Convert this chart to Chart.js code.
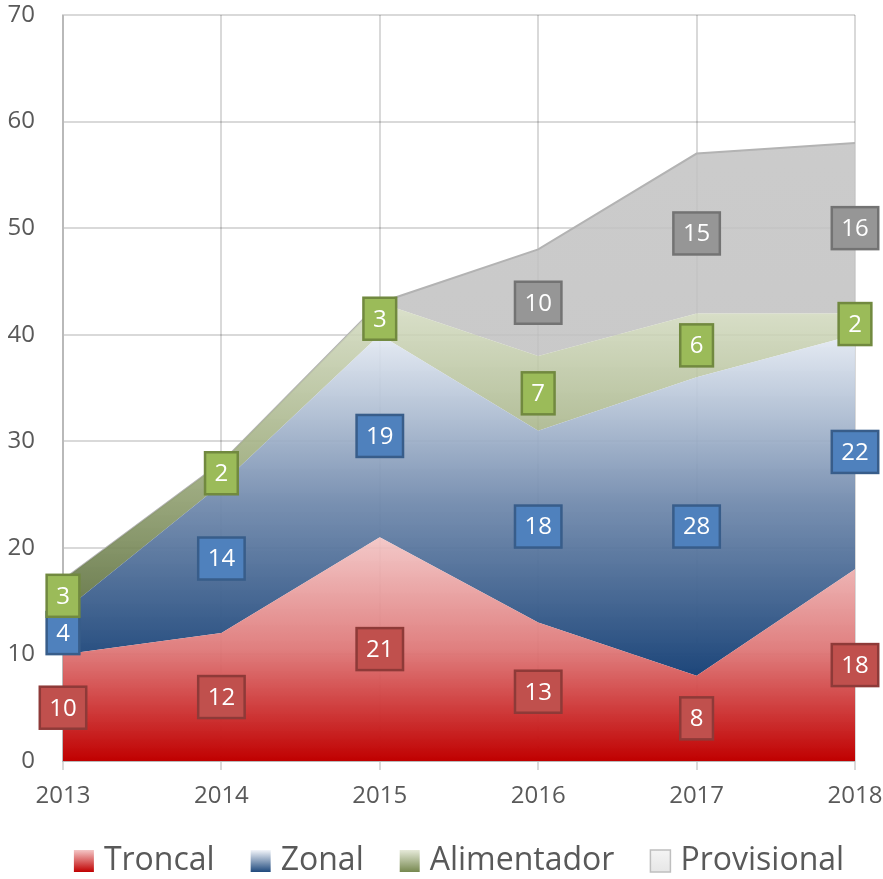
<!DOCTYPE html>
<html>
<head>
<meta charset="utf-8">
<script src="https://cdn.jsdelivr.net/npm/chart.js@4.4.1/dist/chart.umd.min.js"></script>
<style>
  html, body { margin: 0; padding: 0; background: #fff; }
  #wrap { width: 883px; height: 879px; }
</style>
</head>
<body>
<div id="wrap"><canvas id="areaChart" width="883" height="879"></canvas></div>
<script>
// ----------------------------------------------------
const years = [ '2013', '2014', '2015', '2016', '2017', '2018' ];
const troncal = [ 10, 12, 21, 13, 8, 18 ];
const zonal = [ 4, 14, 19, 18, 28, 22 ];
const alimentador = [ 3, 2, 3, 7, 6, 2 ];
const provisional = [ 0, 0, 0, 10, 15, 16 ];
const seriesNames = [ 'Troncal', 'Zonal', 'Alimentador', 'Provisional' ];
const yTicks = [ 0, 10, 20, 30, 40, 50, 60, 70 ];
// ----------------------------------------------------
const allSeries = [ troncal, zonal, alimentador, provisional ];
// gradient stops (top, middle, bottom) for each area
const areaStops = [
    [ 'rgba(242,196,196,0.92)', 'rgba(222,120,120,0.95)', 'rgba(192,0,0,1)' ],
    [ 'rgba(228,234,243,0.92)', 'rgba(112,137,172,0.95)', 'rgba(29,70,122,1)' ],
    [ 'rgba(214,221,196,0.88)', 'rgba(160,174,128,0.9)', 'rgba(98,116,68,0.95)' ],
    [ 'rgba(196,196,196,0.88)', 'rgba(194,194,194,0.88)', 'rgba(192,192,192,0.88)' ]
];
const boxFill = [ '#c0504d', '#4f81bd', '#9bbb59', '#969696' ];
const boxEdge = [ '#8e3a38', '#385d8a', '#71893f', '#737373' ];

function baseOf( s, j ) {
    let b = 0;
    for ( let k = 0; k < s; k++ ) b += allSeries[ k ][ j ];
    return b;
}

function areaGradient( s ) {
    return function( context ) {
        const chart = context.chart;
        const area = chart.chartArea;
        if ( !area ) return areaStops[ s ][ 2 ];
        const y = chart.scales.y;
        let lo = Infinity, hi = -Infinity;
        years.forEach( ( _, j ) => {
            const b = baseOf( s, j );
            lo = Math.min( lo, b );
            hi = Math.max( hi, b + allSeries[ s ][ j ] );
        });
        const g = chart.ctx.createLinearGradient( 0, y.getPixelForValue( hi ), 0, y.getPixelForValue( lo ) );
        g.addColorStop( 0, areaStops[ s ][ 0 ] );
        g.addColorStop( 0.5, areaStops[ s ][ 1 ] );
        g.addColorStop( 1, areaStops[ s ][ 2 ] );
        return g;
    };
}

// boxed value labels in the middle of each band (drawn last, above the grid)
const boxLabels = {
    id: 'boxLabels',
    afterDraw( chart ) {
        const ctx = chart.ctx;
        const x = chart.scales.x, y = chart.scales.y;
        ctx.save();
        ctx.font = '24px "Open Sans"';
        ctx.textAlign = 'center';
        ctx.textBaseline = 'middle';
        allSeries.forEach( ( data, s ) => {
            data.forEach( ( v, j ) => {
                if ( !v ) return;
                const px = x.getPixelForValue( j );
                const py = y.getPixelForValue( baseOf( s, j ) + v / 2 );
                const w = ctx.measureText( String( v ) ).width + 19;
                const h = 42;
                ctx.fillStyle = boxFill[ s ];
                ctx.fillRect( px - w / 2, py - h / 2, w, h );
                ctx.lineWidth = 2.5;
                ctx.strokeStyle = boxEdge[ s ];
                ctx.strokeRect( px - w / 2, py - h / 2, w, h );
                ctx.fillStyle = '#ffffff';
                ctx.fillText( String( v ), px, py + 1 );
            });
        });
        ctx.restore();
    }
};

// legend with gradient swatches
const legendStops = [
    [ '#f4c6c6', '#c00000' ],
    [ '#f2f5fa', '#1f497d' ],
    [ '#e6ead9', '#76884f' ],
    [ '#f4f4f4', '#e6e6e6' ]
];
const bottomLegend = {
    id: 'bottomLegend',
    afterDraw( chart ) {
        const ctx = chart.ctx;
        ctx.save();
        ctx.font = '32px "Open Sans"';
        ctx.textBaseline = 'middle';
        const sw = 20, sh = 22, gapIn = 10, gapOut = 36;
        const widths = seriesNames.map( n => ctx.measureText( n ).width );
        let total = 0;
        widths.forEach( ( w, i ) => { total += sw + gapIn + w + ( i ? gapOut : 0 ); });
        // legend block sits centred under the plot area, not the canvas
        let cx = ( chart.chartArea.left + chart.chartArea.right - total ) / 2;
        const cy = 861;
        seriesNames.forEach( ( name, i ) => {
            const g = ctx.createLinearGradient( 0, cy - sh / 2, 0, cy + sh / 2 );
            g.addColorStop( 0, legendStops[ i ][ 0 ] );
            g.addColorStop( 1, legendStops[ i ][ 1 ] );
            ctx.fillStyle = g;
            ctx.fillRect( cx, cy - sh / 2, sw, sh );
            if ( i === 3 ) {
                ctx.strokeStyle = '#bfbfbf';
                ctx.lineWidth = 1.5;
                ctx.strokeRect( cx, cy - sh / 2, sw, sh );
            }
            ctx.fillStyle = '#595959';
            ctx.fillText( name, cx + sw + gapIn, cy );
            cx += sw + gapIn + widths[ i ] + gapOut;
        });
        ctx.restore();
    }
};

const datasets = allSeries.map( ( data, s ) => ({
    label: seriesNames[ s ],
    data: data,
    fill: s === 0 ? 'origin' : '-1',
    backgroundColor: areaGradient( s ),
    borderColor: s === 3 ? '#b3b3b3' : 'transparent',
    borderWidth: s === 3 ? 2 : 1,
    pointRadius: 0,
    pointHoverRadius: 0,
    tension: 0
}));

const areaChart = new Chart( document.getElementById( 'areaChart' ), {
    type: 'line',
    data: { labels: years, datasets: datasets },
    plugins: [ boxLabels, bottomLegend ],
    options: {
        responsive: false,
        animation: false,
        layout: { padding: { top: 15, right: 28, bottom: 44, left: 0 } },
        plugins: {
            legend: { display: false },
            tooltip: { enabled: false }
        },
        scales: {
            x: {
                z: 1,
                offset: false,
                grid: { color: 'rgba(0,0,0,0.15)', lineWidth: 2, drawTicks: true, tickLength: 9 },
                border: { color: 'rgba(0,0,0,0.15)', width: 2 },
                ticks: { color: '#595959', font: { family: 'Open Sans', size: 24 }, padding: 12, maxRotation: 0 },
                afterFit( scale ) { scale.height = 74; scale.paddingLeft = 0; scale.paddingRight = 0; }
            },
            y: {
                z: 1,
                stacked: true,
                min: yTicks[ 0 ],
                max: yTicks[ yTicks.length - 1 ],
                afterBuildTicks( scale ) { scale.ticks = yTicks.map( v => ({ value: v }) ); },
                grid: { color: 'rgba(0,0,0,0.15)', lineWidth: 2, drawTicks: false },
                border: { color: 'rgba(0,0,0,0.15)', width: 2 },
                ticks: { color: '#595959', font: { family: 'Open Sans', size: 24 }, padding: 28 },
                afterFit( scale ) { scale.width = 63; scale.paddingTop = 0; scale.paddingBottom = 0; }
            }
        }
    }
});
</script>
</body>
</html>
